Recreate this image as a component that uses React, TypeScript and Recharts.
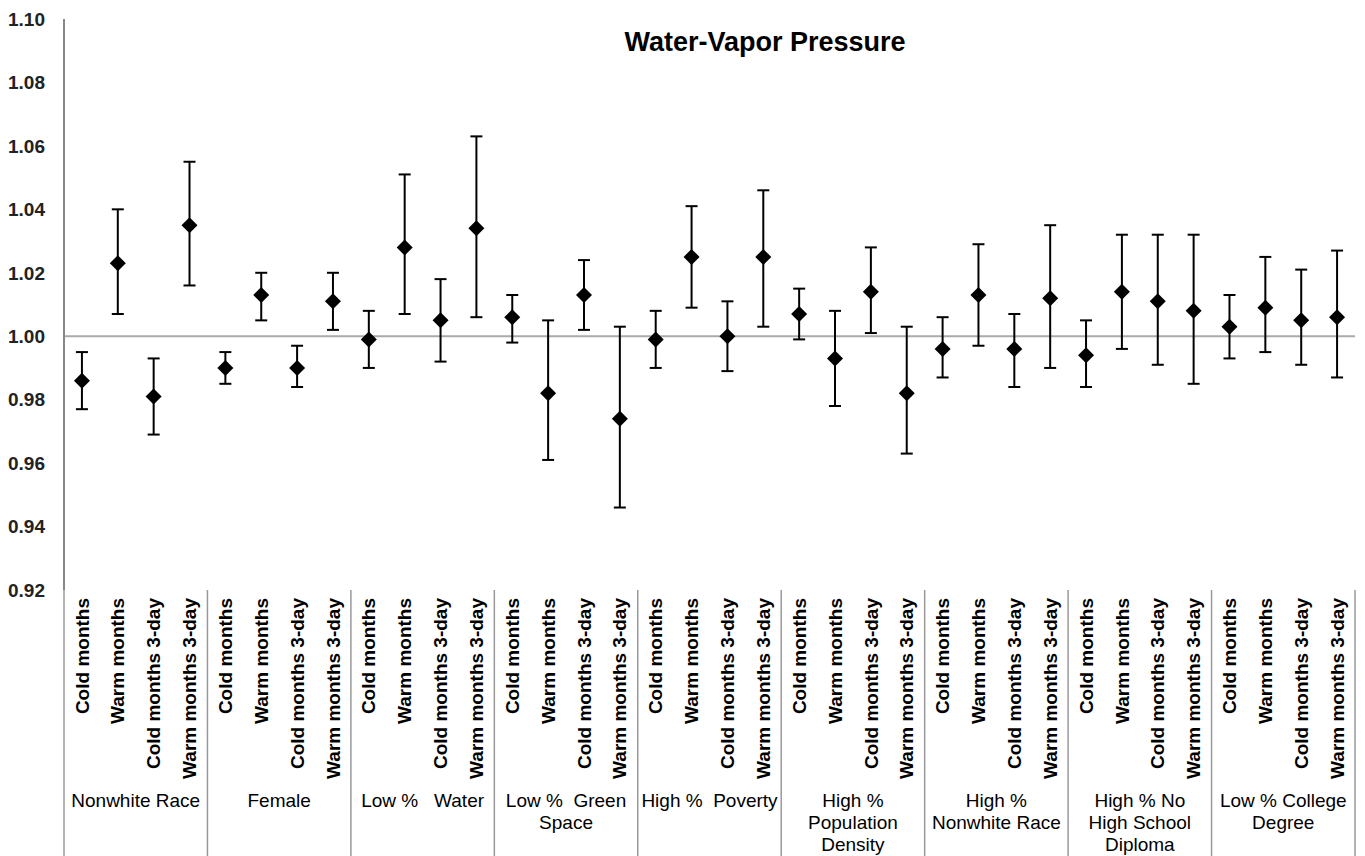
import { ComposedChart, Scatter, ErrorBar, XAxis, YAxis, ReferenceLine } from 'recharts'

const periods = ['Cold months', 'Warm months', 'Cold months 3-day', 'Warm months 3-day']

const groupLabels = [
  ['Nonwhite Race'],
  ['Female'],
  ['Low %   Water'],
  ['Low %  Green', 'Space'],
  ['High %  Poverty'],
  ['High %', 'Population', 'Density'],
  ['High %', 'Nonwhite Race'],
  ['High % No', 'High School', 'Diploma'],
  ['Low % College', 'Degree'],
]

const estimate = [
  0.986, 1.023, 0.981, 1.035,
  0.990, 1.013, 0.990, 1.011,
  0.999, 1.028, 1.005, 1.034,
  1.006, 0.982, 1.013, 0.974,
  0.999, 1.025, 1.000, 1.025,
  1.007, 0.993, 1.014, 0.982,
  0.996, 1.013, 0.996, 1.012,
  0.994, 1.014, 1.011, 1.008,
  1.003, 1.009, 1.005, 1.006,
]

const lower = [
  0.977, 1.007, 0.969, 1.016,
  0.985, 1.005, 0.984, 1.002,
  0.990, 1.007, 0.992, 1.006,
  0.998, 0.961, 1.002, 0.946,
  0.990, 1.009, 0.989, 1.003,
  0.999, 0.978, 1.001, 0.963,
  0.987, 0.997, 0.984, 0.990,
  0.984, 0.996, 0.991, 0.985,
  0.993, 0.995, 0.991, 0.987,
]

const upper = [
  0.995, 1.040, 0.993, 1.055,
  0.995, 1.020, 0.997, 1.020,
  1.008, 1.051, 1.018, 1.063,
  1.013, 1.005, 1.024, 1.003,
  1.008, 1.041, 1.011, 1.046,
  1.015, 1.008, 1.028, 1.003,
  1.006, 1.029, 1.007, 1.035,
  1.005, 1.032, 1.032, 1.032,
  1.013, 1.025, 1.021, 1.027,
]

const yTicks = [0.92, 0.94, 0.96, 0.98, 1.0, 1.02, 1.04, 1.06, 1.08, 1.1]

const data = estimate.map((v, i) => ({
  id: `c${i}`,
  value: v,
  err: [v - lower[i], upper[i] - v],
}))

const W = 1365
const H = 856
const PLOT_LEFT = 64
const PLOT_RIGHT = 1355
const BAND = (PLOT_RIGHT - PLOT_LEFT) / data.length

function Diamond(props: any) {
  const { cx, cy } = props
  const r = 8
  return <polygon points={`${cx},${cy - r} ${cx + r},${cy} ${cx},${cy + r} ${cx - r},${cy}`} fill="#000" />
}

function CategoryTick(props: any) {
  const { x, y, index } = props
  const pos = index % 4
  const g = Math.floor(index / 4)
  const top = y + 8
  return (
    <g>
      <text
        x={x}
        y={top}
        transform={`rotate(-90, ${x}, ${top})`}
        textAnchor="end"
        dy="0.35em"
        fontSize={19}
        fontWeight="bold"
        fill="#000"
      >
        {periods[pos]}
      </text>
      {pos === 0 && <line x1={x - BAND / 2} x2={x - BAND / 2} y1={y} y2={H} stroke="#999" strokeWidth={1.5} />}
      {index === data.length - 1 && <line x1={x + BAND / 2} x2={x + BAND / 2} y1={y} y2={H} stroke="#999" strokeWidth={1.5} />}
      {pos === 1 && (
        <text x={x + BAND / 2} y={800} textAnchor="middle" fontSize={19} fill="#000" style={{ whiteSpace: 'pre' }}>
          {groupLabels[g].map((line, k) => (
            <tspan key={k} x={x + BAND / 2} dy={k === 0 ? '0.35em' : 22}>{line}</tspan>
          ))}
        </text>
      )}
    </g>
  )
}

export default function App() {
  return (
    <div style={{ position: 'absolute', left: 0, top: 0, width: W, height: H, background: '#fff', fontFamily: '"Liberation Sans", Arial, sans-serif' }}>
      <div style={{ position: 'absolute', left: 465, top: 27, width: 600, textAlign: 'center', fontSize: 27, fontWeight: 'bold', lineHeight: '30px', color: '#000' }}>
        Water-Vapor Pressure
      </div>
      <ComposedChart width={W} height={H} data={data} margin={{ top: 19, right: W - PLOT_RIGHT, left: 0, bottom: 0 }}>
        <XAxis
          dataKey="id"
          type="category"
          height={H - 590}
          padding={{ left: BAND / 2, right: BAND / 2 }}
          axisLine={false}
          tickLine={false}
          tickSize={0}
          tickMargin={0}
          interval={0}
          tick={<CategoryTick />}
        />
        <YAxis
          width={PLOT_LEFT}
          domain={[0.92, 1.1]}
          ticks={yTicks}
          allowDataOverflow
          tickFormatter={(v: number) => v.toFixed(2)}
          axisLine={{ stroke: '#888', strokeWidth: 2 }}
          tickLine={false}
          tickSize={0}
          tickMargin={19}
          tick={{ fontSize: 19, fontWeight: 'bold', fill: '#222' }}
        />
        <ReferenceLine y={1} stroke="#aaa" strokeWidth={2} />
        <Scatter dataKey="value" shape={<Diamond />} isAnimationActive={false}>
          <ErrorBar dataKey="err" direction="y" width={6} stroke="#000" strokeWidth={2} isAnimationActive={false} />
        </Scatter>
      </ComposedChart>
    </div>
  )
}
